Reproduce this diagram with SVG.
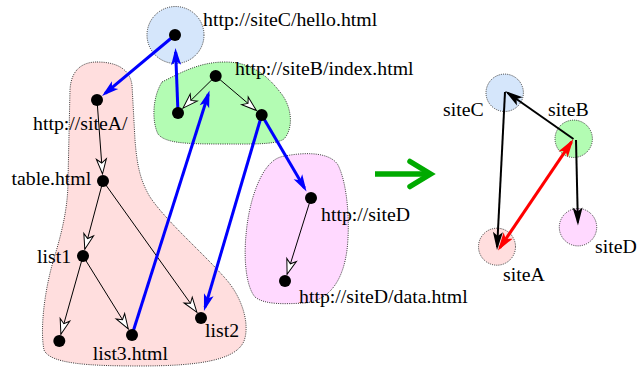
<svg xmlns="http://www.w3.org/2000/svg" width="637" height="367" viewBox="0 0 637 367">
<style>
text{font-family:"Liberation Serif","Times New Roman",serif;font-size:19.8px;fill:#000}
.blob{stroke:#222;stroke-width:0.9;stroke-dasharray:1 1.2}
.dot{fill:#000}
.blue{stroke:#0000ff;stroke-width:3;fill:none;marker-end:url(#bh)}
.tree{stroke:#000;stroke-width:1;fill:none;marker-end:url(#oh)}
.blk{stroke:#000;stroke-width:2;fill:none;marker-end:url(#kh)}
.red{stroke:#ff0000;stroke-width:3;fill:none;marker-end:url(#rh);marker-start:url(#rh)}
</style>
<defs>
<marker id="bh" markerUnits="userSpaceOnUse" orient="auto" refX="-4" refY="0" markerWidth="30" markerHeight="30" style="overflow:visible"><path d="M0,0 L-17,-5 L-13,0 L-17,5 Z" fill="#0000ff"/></marker>
<marker id="oh" markerUnits="userSpaceOnUse" orient="auto" refX="0" refY="0" markerWidth="30" markerHeight="30" style="overflow:visible"><path d="M0,0 L-15,-5 L-11,0 L-15,5 Z" fill="#fff" stroke="#000" stroke-width="1"/></marker>
<marker id="kh" markerUnits="userSpaceOnUse" orient="auto" refX="-3" refY="0" markerWidth="30" markerHeight="30" style="overflow:visible"><path d="M0,0 L-18,-5 L-14,0 L-18,5 Z" fill="#000"/></marker>
<marker id="rh" markerUnits="userSpaceOnUse" orient="auto-start-reverse" refX="-3" refY="0" markerWidth="30" markerHeight="30" style="overflow:visible"><path d="M0,0 L-18,-5.5 L-14,0 L-18,5.5 Z" fill="#ff0000"/></marker>
</defs>

<!-- left: site regions -->
<g id="siteA-region">
<path class="blob" fill="#ffdede" d="M97,62 C118,62 130,70 132,85 L135,140 C137,165 140,180 150,197 C167,222 200,250 225,278 C243,298 250,325 244,341 C236,360 200,366 140,366 C90,366 50,364 44,350 C40,330 44,290 55,255 C65,222 68,200 68,180 L70,90 C71,70 82,62 97,62 Z"/>
</g>
<g id="siteB-region">
<path class="blob" fill="#b3fcb3" d="M162,82 C182,72 200,62 225,62 C250,62 266,74 280,92 C292,106 294,128 284,139 C275,145 250,144 220,144 C185,144 165,143 158,134 C152,122 152,98 162,82 Z"/>
</g>
<g id="siteC-region">
<circle class="blob" cx="175.5" cy="35" r="28.5" fill="#d5e6fb"/>
</g>
<g id="siteD-region">
<path class="blob" fill="#ffd9ff" d="M285,156 C305,152 330,152 338,165 C348,185 350,225 347,250 C343,280 330,300 305,303 C285,304 265,305 255,297 C245,285 244,255 246,235 C248,210 255,185 265,170 C272,160 278,157 285,156 Z"/>
</g>

<!-- left: connectors -->
<g id="left-connectors">
<line class="tree" x1="97" y1="100" x2="102.5" y2="174"/>
<line class="tree" x1="103" y1="181" x2="84.8" y2="249.2"/>
<line class="tree" x1="103" y1="181" x2="196.9" y2="312.3"/>
<line class="tree" x1="83" y1="256" x2="60.9" y2="334.3"/>
<line class="tree" x1="83" y1="256" x2="128.3" y2="329"/>
<line class="tree" x1="215.7" y1="76" x2="183" y2="108.1"/>
<line class="tree" x1="215.7" y1="76" x2="256.4" y2="110.5"/>
<line class="tree" x1="311" y1="198" x2="287.1" y2="274.3"/>
<line class="blue" x1="175" y1="35" x2="105.1" y2="93.4"/>
<line class="blue" x1="178" y1="113" x2="175.65" y2="52"/>
<line class="blue" x1="132" y1="335" x2="208.3" y2="94.3"/>
<line class="blue" x1="261.7" y1="115" x2="205.1" y2="307.2"/>
<line class="blue" x1="261.7" y1="115" x2="304.5" y2="188.05"/>
</g>

<!-- left: page nodes -->
<g id="hello"><circle class="dot" cx="175" cy="35" r="6"/><text x="203" y="26">http://siteC/hello.html</text></g>
<g id="siteA-root"><circle class="dot" cx="97" cy="100" r="6"/><text x="33" y="130">http://siteA/</text></g>
<g id="table"><circle class="dot" cx="103" cy="181" r="6"/><text x="11.5" y="185">table.html</text></g>
<g id="list1"><circle class="dot" cx="83" cy="256" r="6"/><text x="37" y="263">list1</text></g>
<g id="leaf"><circle class="dot" cx="59.3" cy="341" r="6"/></g>
<g id="list3"><circle class="dot" cx="132" cy="335" r="6"/><text x="92.7" y="360">list3.html</text></g>
<g id="list2"><circle class="dot" cx="201" cy="318" r="6"/><text x="205" y="337">list2</text></g>
<g id="index"><circle class="dot" cx="215.7" cy="76" r="6"/><text x="235" y="75">http://siteB/index.html</text></g>
<g id="siteB-left"><circle class="dot" cx="178" cy="113" r="6"/></g>
<g id="siteB-right"><circle class="dot" cx="261.7" cy="115" r="6"/></g>
<g id="siteD-root"><circle class="dot" cx="311" cy="198" r="6"/><text x="321" y="221">http://siteD</text></g>
<g id="data"><circle class="dot" cx="285" cy="281" r="6"/><text x="299" y="303">http://siteD/data.html</text></g>

<!-- transform arrow -->
<g id="transform-arrow">
<line x1="375" y1="174" x2="429" y2="174" stroke="#00aa00" stroke-width="5.5"/>
<polyline points="410,161.5 430.5,174 410,186.5" fill="none" stroke="#00aa00" stroke-width="5.5" stroke-linecap="round" stroke-linejoin="miter"/>
</g>

<!-- right: site graph -->
<g id="siteC"><circle class="blob" cx="504.7" cy="92.8" r="18.7" fill="#d5e6fb"/><text x="443" y="116">siteC</text></g>
<g id="siteB"><circle class="blob" cx="573.7" cy="138.8" r="18.7" fill="#b3fcb3"/><text x="548" y="116">siteB</text></g>
<g id="siteD"><circle class="blob" cx="578" cy="227.2" r="18.7" fill="#ffd9ff"/><text x="595" y="253">siteD</text></g>
<g id="siteA"><circle class="blob" cx="497" cy="246.7" r="18.5" fill="#ffdede"/><text x="503" y="280.5">siteA</text></g>

<g id="right-connectors">
<line class="blk" x1="573.5" y1="139" x2="507.5" y2="92.7"/>
<line class="blk" x1="505" y1="92" x2="497.15" y2="247"/>
<line class="blk" x1="576" y1="140" x2="577.9" y2="222.5"/>
<line class="red" x1="499.7" y1="248" x2="571.6" y2="141.8"/>
</g>
</svg>
